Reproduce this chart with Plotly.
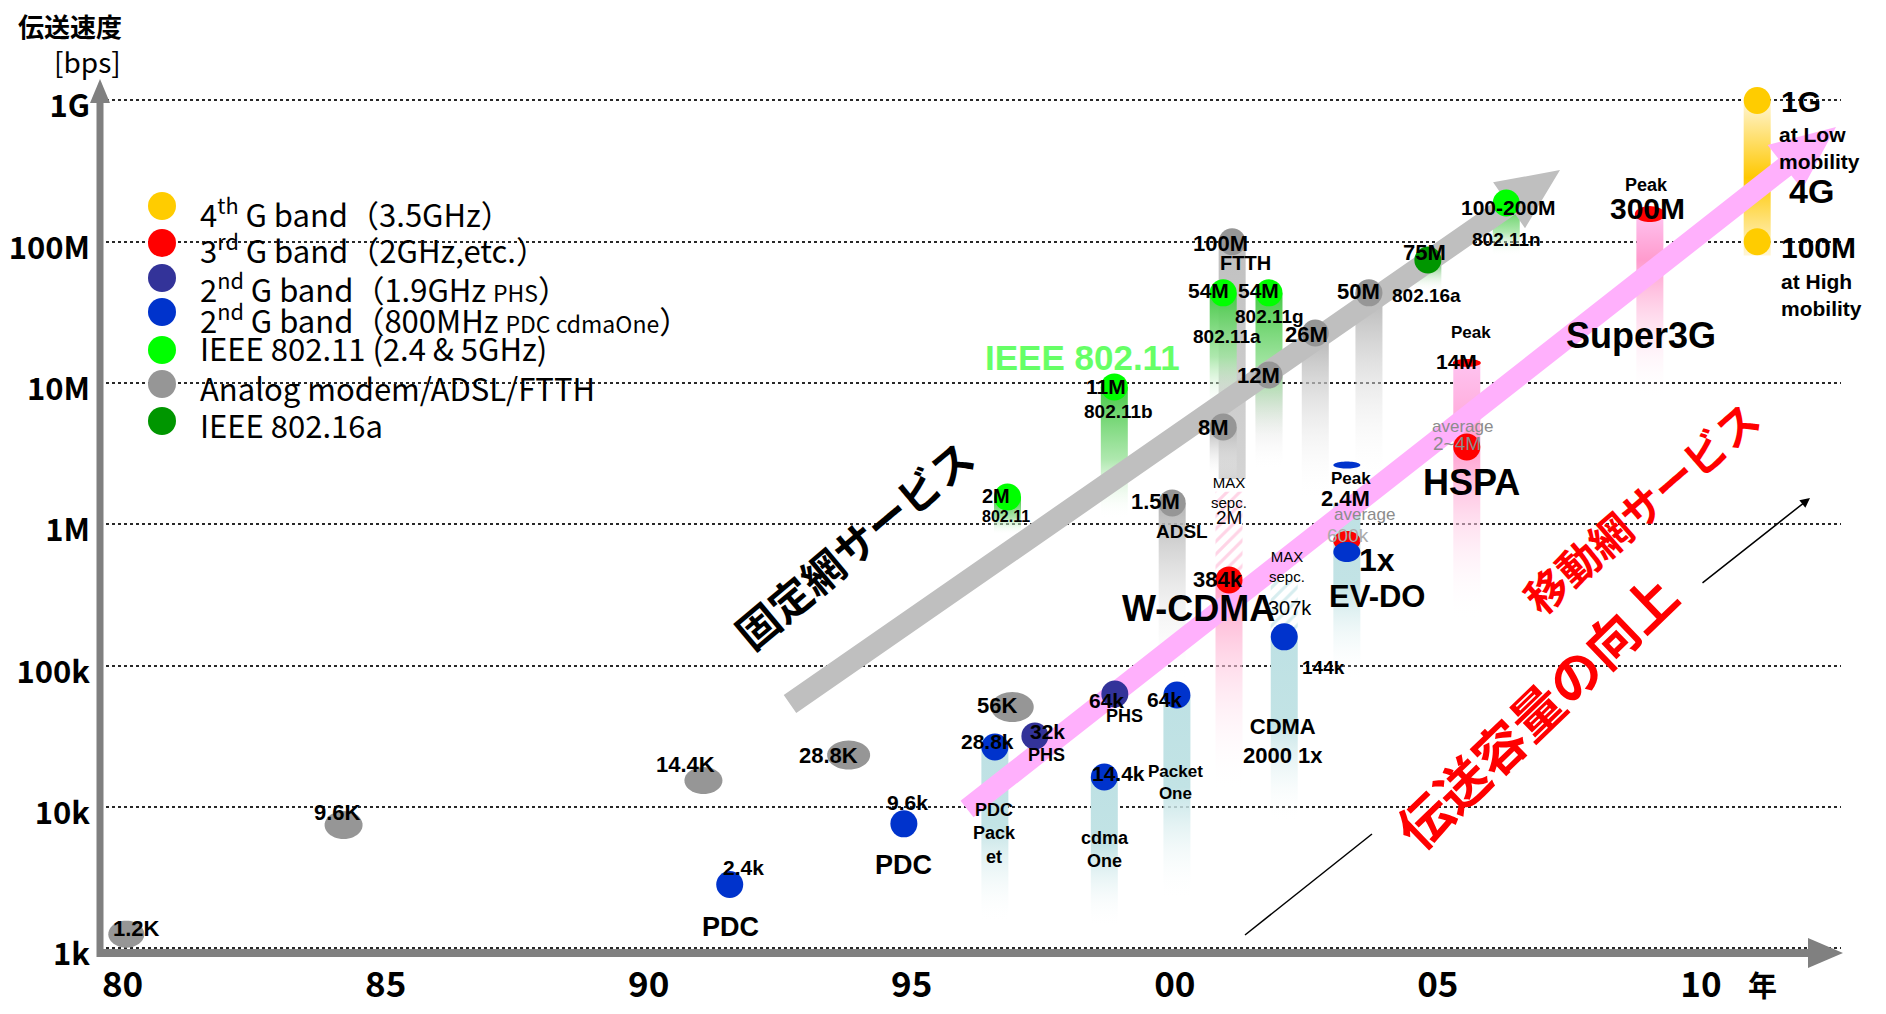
import math
import plotly.graph_objects as go

# ---------------- geometry (page pixels; the page body adds an 8 px margin) ----------------
OFF = 8
W, H = 1886 - 2 * OFF, 1014 - 2 * OFF
L, R, T, B = 100, 1841, 79, 953
X_RANGE = [1979.570, 2012.663]
Y_RANGE = [2.967, 9.152]          # log10(bps)
PX_PER_YEAR = (R - L) / (X_RANGE[1] - X_RANGE[0])
PX_PER_DEC = (B - T) / (Y_RANGE[1] - Y_RANGE[0])
BAR_PX = 27

SANS = "Liberation Sans, Arial, sans-serif"
GOTHIC = "Noto Sans CJK JP, sans-serif"
CJK = "Noto Sans CJK JP, sans-serif"

# ---------------- data ----------------
years_tick = [1980, 1985, 1990, 1995, 2000, 2005, 2010]
years_text = ["80", "85", "90", "95", "00", "05", "10"]
bps_tick = [1e3, 1e4, 1e5, 1e6, 1e7, 1e8, 1e9]
bps_text = ["1k", "10k", "100k", "1M", "10M", "100M", "1G"]

# analog modems (gray ellipses)
modem_year = [1980.07, 1984.20, 1991.04, 1993.80, 1996.91]
modem_bps = [1.26e3, 7.46e3, 15.4e3, 23.3e3, 51e3]
modem_label = ["1.2K", "9.6K", "14.4K", "28.8K", "56K"]

# ADSL / FTTH (gray)
wired_year = [1999.95, 2000.92, 2001.09, 2001.79, 2002.67, 2003.69]
wired_bps = [1.42e6, 4.89e6, 100e6, 11.4e6, 22.6e6, 43.5e6]
wired_label = ["1.5M", "8M", "100M", "12M", "26M", "50M"]
wired_bar_bottom = [80e3, 2.1e6, 2.1e6, 2.4e6, 1.5e6, 2.0e6]

# IEEE 802.11 (green)
wlan_year = [1996.82, 1998.85, 2000.92, 2001.79, 2006.30]
wlan_bps = [1.56e6, 9.4e6, 43.5e6, 43.5e6, 188e6]
wlan_label = ["2M", "11M", "54M", "54M", "100-200M"]
wlan_std = ["802.11", "802.11b", "802.11a", "802.11g", "802.11n"]
wlan_bar_bottom = [0.85e6, 1.1e6, 6.5e6, 3.8e6, 80e6]

# IEEE 802.16a (dark green)
wimax_year = [2004.81]
wimax_bps = [74.3e6]
wimax_label = ["75M"]
wimax_bar_bottom = [45e6]

# 2nd G 800MHz: PDC / cdmaOne (blue)
g2_year = [1991.54, 1994.85, 1996.58, 1998.66, 2000.04, 2002.08]
g2_bps = [2.83e3, 7.6e3, 26.6e3, 16.3e3, 62e3, 160e3]
g2_label = ["2.4k", "9.6k", "28.8k", "14.4k", "64k", "144k"]
g2_bar_bottom = [None, None, 1.5e3, 1.4e3, 2.2e3, 7.8e3]

# EV-DO (blue, 1x) with peak
evdo_year = [2003.27]
evdo_bps = [638e3]
evdo_peak_bps = [2.63e6]
evdo_bar_top = [1.4e6]
evdo_bar_bottom = [79e3]

# 2nd G 1.9GHz PHS (dark blue)
phs_year = [1997.34, 1998.86]
phs_bps = [31.8e3, 63e3]
phs_label = ["32k", "64k"]

# 3rd G (red)
wcdma_year, wcdma_bps, wcdma_max, wcdma_bar_bottom = 2001.03, 405e3, 1.7e6, 13e3
cdma_max = 400e3
evdo_avg_bps = 764e3
hspa_year, hspa_bps, hspa_peak, hspa_bar_bottom = 2005.55, 3.53e6, 13.9e6, 209e3
s3g_year, s3g_bps, s3g_bar_bottom = 2009.03, 157e6, 7.7e6

# 4th G (yellow)
g4_year = [2011.07, 2011.07]
g4_bps = [1e9, 1e8]
g4_bar_bottom = 80e6

# ---------------- helpers ----------------
def to_year(px):
    return X_RANGE[0] + (px - L) / PX_PER_YEAR


def to_bps(py):
    return 10 ** (Y_RANGE[1] - (py - T) / PX_PER_DEC)


def paper_x(px):
    return (px - L) / (R - L)


def paper_y(py):
    return (B - py) / (B - T)


traces = []
shapes = []
ann = []


def bar(year, top, bottom, scale, width_px=BAR_PX):
    half = width_px / 2 / PX_PER_YEAR
    traces.append(go.Scatter(
        x=[year - half, year + half, year + half, year - half, year - half],
        y=[top, top, bottom, bottom, top],
        mode="none", fill="toself",
        fillgradient=dict(type="vertical", colorscale=scale),
        hoverinfo="skip", showlegend=False))


def hatch(year, top, bottom, fg, width_px=BAR_PX):
    half = width_px / 2 / PX_PER_YEAR
    traces.append(go.Scatter(
        x=[year - half, year + half, year + half, year - half, year - half],
        y=[top, top, bottom, bottom, top],
        mode="none", fill="toself", fillcolor="white",
        fillpattern=dict(shape="/", fgcolor=fg, bgcolor="white", size=9, solidity=0.35),
        hoverinfo="skip", showlegend=False))


def dots(xs, ys, color, size=27):
    traces.append(go.Scatter(x=xs, y=ys, mode="markers",
                             marker=dict(size=size, color=color, line=dict(width=0)),
                             hoverinfo="skip", showlegend=False))


def ellipse(x, y, w, h, color):
    # outline of an ellipse of w x h pixels around the data point
    cx = L + (x - X_RANGE[0]) * PX_PER_YEAR
    cy = T + (Y_RANGE[1] - math.log10(y)) * PX_PER_DEC
    n = 48
    xs, ys = [], []
    for k in range(n + 1):
        a = 2 * math.pi * k / n
        xs.append(to_year(cx + w / 2 * math.cos(a)))
        ys.append(to_bps(cy + h / 2 * math.sin(a)))
    traces.append(go.Scatter(x=xs, y=ys, mode="none", fill="toself", fillcolor=color,
                             hoverinfo="skip", showlegend=False))


def label(x, y, text, dx=0, dy=0, size=21, color="black", bold=True, family=SANS, xanchor="center"):
    ann.append(dict(x=x, y=math.log10(y), xref="x", yref="y",
                    text=text, showarrow=False, xshift=dx, yshift=-dy,
                    font=dict(size=size, color=color, family=family, weight="bold" if bold else "normal"),
                    xanchor=xanchor, yanchor="middle", align="left" if xanchor == "left" else "center"))


def ptext(px, py, text, size, color="black", bold=True, family=SANS, angle=0, xanchor="center"):
    ann.append(dict(x=paper_x(px), y=paper_y(py), xref="paper", yref="paper",
                    text=text, showarrow=False, textangle=angle,
                    font=dict(size=size, color=color, family=family, weight="bold" if bold else "normal"),
                    xanchor=xanchor, yanchor="middle"))


def arrow_poly(p0, p1, hw, head_len, head_hw, color):
    (x0, y0), (x1, y1) = p0, p1
    n = math.hypot(x1 - x0, y1 - y0)
    ux, uy = (x1 - x0) / n, (y1 - y0) / n
    px_, py_ = -uy, ux
    bx, by = x1 - head_len * ux, y1 - head_len * uy
    pts = [(x0 + hw * px_, y0 + hw * py_), (bx + hw * px_, by + hw * py_),
           (bx + head_hw * px_, by + head_hw * py_), (x1, y1),
           (bx - head_hw * px_, by - head_hw * py_), (bx - hw * px_, by - hw * py_),
           (x0 - hw * px_, y0 - hw * py_), (x0 + hw * px_, y0 + hw * py_)]
    traces.append(go.Scatter(x=[to_year(p[0]) for p in pts], y=[to_bps(p[1]) for p in pts],
                             mode="none", fill="toself", fillcolor=color,
                             hoverinfo="skip", showlegend=False))


# ---------------- colour scales (0 = bottom of bar) ----------------
GRAY = [[0, "rgba(255,255,255,0)"], [1, "rgb(180,180,180)"]]
FTTH = [[0, "rgb(212,212,212)"], [1, "rgb(192,192,192)"]]
GREEN = [[0, "rgba(255,255,255,0)"], [0.45, "rgba(160,228,160,0.85)"], [1, "rgb(70,200,70)"]]
DGREEN = [[0, "rgba(255,255,255,0)"], [1, "rgb(80,180,80)"]]
TEAL = [[0, "rgba(255,255,255,0)"], [0.55, "rgb(194,227,229)"], [1, "rgb(190,225,228)"]]
PINK_W = [[0, "rgba(255,255,255,0)"], [1, "rgb(255,160,200)"]]
PINK_H = [[0, "rgba(255,255,255,0)"], [0.67, "rgb(255,160,208)"], [1, "rgb(255,195,240)"]]
PINK_S = [[0, "rgba(255,255,255,0)"], [0.75, "rgb(255,155,205)"], [1, "rgb(255,195,240)"]]
YELLOW = [[0, "rgb(255,246,215)"], [0.5, "rgb(255,200,0)"], [1, "rgb(255,246,215)"]]

# ---------------- bars ----------------
for i in [2, 0, 1, 3, 4, 5]:
    bar(wired_year[i], wired_bps[i], wired_bar_bottom[i], FTTH if i == 2 else GRAY)
for i in range(len(wlan_year)):
    bar(wlan_year[i], wlan_bps[i], wlan_bar_bottom[i], GREEN)
bar(wimax_year[0], wimax_bps[0], wimax_bar_bottom[0], DGREEN)
for i in range(len(g2_year)):
    if g2_bar_bottom[i] is not None:
        bar(g2_year[i], g2_bps[i], g2_bar_bottom[i], TEAL)
bar(evdo_year[0], evdo_bar_top[0], evdo_bar_bottom[0], TEAL)
bar(wcdma_year, wcdma_bps, wcdma_bar_bottom, PINK_W)
bar(hspa_year, hspa_peak, hspa_bar_bottom, PINK_H)
bar(s3g_year, s3g_bps, s3g_bar_bottom, PINK_S)
bar(g4_year[0], g4_bps[0], g4_bar_bottom, YELLOW)
hatch(wcdma_year, wcdma_max, wcdma_bps, "rgb(255,170,205)")
hatch(g2_year[5], cdma_max, g2_bps[5], "rgb(175,220,224)")

# ---------------- trend arrows ----------------
arrow_poly((790, 704), (1560, 170), 11, 62, 28, "rgb(191,191,191)")
arrow_poly((967, 809), (1836, 127), 10.5, 65, 28, "rgb(255,176,252)")

# ---------------- dots ----------------
dots(wired_year, wired_bps, "rgb(150,150,150)")
dots(wlan_year, wlan_bps, "rgb(0,255,0)")
dots(wimax_year, wimax_bps, "rgb(0,150,0)")
dots(g2_year, g2_bps, "rgb(0,51,204)")
dots(phs_year, phs_bps, "rgb(51,51,153)")
dots([wcdma_year, hspa_year], [wcdma_bps, hspa_bps], "rgb(255,0,0)")
dots(g4_year, g4_bps, "rgb(255,204,0)")

modem_size = [(36, 27), (38, 28), (38, 27), (43, 29), (43, 30)]
for i in range(len(modem_year)):
    ellipse(modem_year[i], modem_bps[i], *modem_size[i], "rgb(150,150,150)")
ellipse(evdo_year[0], evdo_avg_bps, 27, 20, "rgb(255,0,0)")
ellipse(evdo_year[0], evdo_bps[0], 27, 20, "rgb(0,51,204)")
ellipse(evdo_year[0], evdo_peak_bps[0], 27, 7, "rgb(0,51,204)")
ellipse(hspa_year, hspa_peak, 28, 8, "rgb(255,0,0)")
ellipse(s3g_year, s3g_bps, 30, 16, "rgb(255,0,0)")

# ---------------- labels ----------------
modem_off = [(10, -6), (-6, -13), (-18, -16), (-20, 0), (-15, -2)]
for i in range(len(modem_year)):
    label(modem_year[i], modem_bps[i], modem_label[i], *modem_off[i], size=22)
wired_off = [(-17, -1), (-10, 0), (-12, 2), (-10, 0), (-9, 1), (-10, -1)]
for i in range(len(wired_year)):
    label(wired_year[i], wired_bps[i], wired_label[i], *wired_off[i], size=22)
label(wired_year[0], wired_bps[0], "ADSL", 10, 29, size=19)
label(wired_year[2], wired_bps[2], "FTTH", 13, 21, size=20)

wlan_off = [(-12, -1), (-8, 0), (-15, -2), (-10, -2), (2, 4)]
wlan_std_off = [(-2, 19), (4, 25), (4, 44), (1, 24), (0, 36)]
for i in range(len(wlan_year)):
    label(wlan_year[i], wlan_bps[i], wlan_label[i], *wlan_off[i], size=20 if i == 0 else 21)
    label(wlan_year[i], wlan_bps[i], wlan_std[i], *wlan_std_off[i], size=16 if i == 0 else 19)
label(wimax_year[0], wimax_bps[0], wimax_label[0], -3, -8, size=22)
label(wimax_year[0], wimax_bps[0], "802.16a", -1, 35, size=19)

g2_off = [(14, -17), (4, -21), (-7, -5), (14, -4), (-12, 4), (39, 31)]
for i in range(len(g2_year)):
    label(g2_year[i], g2_bps[i], g2_label[i], *g2_off[i], size=21 if i < 5 else 19)
label(g2_year[0], g2_bps[0], "PDC", 1, 42, size=27)
label(g2_year[1], g2_bps[1], "PDC", 0, 41, size=27)
label(g2_year[2], g2_bps[2], "PDC<br>Pack<br>et", 0, 87, size=18)
label(g2_year[3], g2_bps[3], "cdma<br>One", 1, 72, size=18)
label(g2_year[4], g2_bps[4], "Packet<br>One", -1, 87, size=17)
label(g2_year[5], g2_bps[5], "CDMA<br>2000 1x", -1, 104, size=22)
label(g2_year[5], g2_bps[5], "MAX<br>sepc.", 3, -70, size=15, bold=False)
label(g2_year[5], g2_bps[5], "307k", 6, -29, size=20, bold=False)
label(evdo_year[0], evdo_bps[0], "1x", 30, 8, size=32)
label(evdo_year[0], evdo_bps[0], "EV-DO", 30, 45, size=31)
label(evdo_year[0], evdo_avg_bps, "average", 18, -26, size=17, color="rgb(140,140,140)", bold=False)
label(evdo_year[0], evdo_avg_bps, "600k", 1, -5, size=19, color="rgb(170,170,170)", bold=False)
label(evdo_year[0], evdo_peak_bps[0], "Peak", 4, 13, size=17)
label(evdo_year[0], evdo_peak_bps[0], "2.4M", -1, 33, size=22)

phs_off = [(13, -5), (-8, 6)]
phs_sub = [(12, 19), (10, 22)]
for i in range(len(phs_year)):
    label(phs_year[i], phs_bps[i], phs_label[i], *phs_off[i], size=21)
    label(phs_year[i], phs_bps[i], "PHS", *phs_sub[i], size=18)

label(wcdma_year, wcdma_bps, "384k", -11, 0, size=22)
label(wcdma_year, wcdma_bps, "MAX<br>sepc.", 0, -87, size=15, bold=False)
label(wcdma_year, wcdma_bps, "2M", 0, -62, size=19, bold=False)
label(hspa_year, hspa_bps, "average", -4, -21, size=17, color="rgb(140,140,140)", bold=False)
label(hspa_year, hspa_bps, "2~4M", -10, -4, size=19, color="rgb(140,140,140)", bold=False)
label(hspa_year, hspa_bps, "HSPA", 5, 35, size=36)
label(hspa_year, hspa_peak, "Peak", 4, -30, size=17)
label(hspa_year, hspa_peak, "14M", -10, -1, size=21)
label(s3g_year, s3g_bps, "Peak", -3, -29, size=18)
label(s3g_year, s3g_bps, "300M", -2, -6, size=30)
label(s3g_year, s3g_bps, "Super3G", -9, 121, size=36)

label(g4_year[0], g4_bps[0], "1G", 22, 1, size=30, xanchor="left")
label(g4_year[0], g4_bps[0], "at Low<br>mobility", 20, 48, size=21, xanchor="left")
label(g4_year[0], g4_bps[0], "4G", 30, 91, size=34, xanchor="left")
label(g4_year[1], g4_bps[1], "100M", 22, 6, size=30, xanchor="left")
label(g4_year[1], g4_bps[1], "at High<br>mobility", 22, 53, size=21, xanchor="left")

ptext(1082, 357, "IEEE 802.11", 35, color="rgb(102,255,102)")
ptext(1198, 608, "W-CDMA", 36)
ptext(853, 543, "固定網サービス", 42, family=CJK, angle=-40)
ptext(1640, 506, "移動網サービス", 42, color="rgb(255,0,0)", family=CJK, angle=-41)
ptext(1535, 710, "伝送容量の向上", 52, color="rgb(255,0,0)", family=CJK, angle=-44)
ptext(70, 25, "伝送速度", 26, family=CJK)
ptext(87, 61, "[bps]", 28, family=GOTHIC, bold=False)
ptext(1762, 984, "年", 29, family=CJK)

# ---------------- legend ----------------
legend_color = ["rgb(255,204,0)", "rgb(255,0,0)", "rgb(51,51,153)", "rgb(0,51,204)",
                "rgb(0,255,0)", "rgb(150,150,150)", "rgb(0,150,0)"]
legend_text = ["4<sup>th</sup> G band（3.5GHz）",
               "3<sup>rd</sup> G band（2GHz,etc.）",
               "2<sup>nd</sup> G band（1.9GHz <span style='font-size:23px'>PHS</span>）",
               "2<sup>nd</sup> G band（800MHz <span style='font-size:23px'>PDC cdmaOne</span>）",
               "IEEE 802.11 (2.4 & 5GHz)",
               "Analog modem/ADSL/FTTH",
               "IEEE 802.16a"]
legend_dot_y = [206, 243, 278, 312, 350, 384, 421]
legend_txt_y = [212, 248, 287, 318, 348, 387, 424]
for c, t, dy, ty in zip(legend_color, legend_text, legend_dot_y, legend_txt_y):
    shapes.append(dict(type="circle", xref="paper", yref="paper", xsizemode="pixel", ysizemode="pixel",
                       xanchor=paper_x(162), yanchor=paper_y(dy), x0=-14, x1=14, y0=-14, y1=14,
                       fillcolor=c, line=dict(width=0), layer="above"))
    ptext(198, ty, t, 31, family=GOTHIC, bold=False, xanchor="left")

# ---------------- axes lines with arrowheads, thin trend arrow ----------------
AX = "rgb(128,128,128)"
shapes.append(dict(type="line", xref="paper", yref="paper", x0=paper_x(100), x1=paper_x(100),
                   y0=paper_y(957), y1=paper_y(98), line=dict(color=AX, width=7), layer="above"))
shapes.append(dict(type="path", xref="paper", yref="paper", fillcolor=AX, line=dict(width=0), layer="above",
                   path=f"M {paper_x(90)} {paper_y(103)} L {paper_x(100)} {paper_y(79)} L {paper_x(110)} {paper_y(103)} Z"))
shapes.append(dict(type="line", xref="paper", yref="paper", x0=paper_x(97), x1=paper_x(1812),
                   y0=paper_y(953), y1=paper_y(953), line=dict(color=AX, width=8), layer="above"))
shapes.append(dict(type="path", xref="paper", yref="paper", fillcolor=AX, line=dict(width=0), layer="above",
                   path=f"M {paper_x(1808)} {paper_y(938)} L {paper_x(1843)} {paper_y(953)} L {paper_x(1808)} {paper_y(968)} Z"))
shapes.append(dict(type="line", xref="paper", yref="paper", x0=paper_x(1245), x1=paper_x(1372),
                   y0=paper_y(935), y1=paper_y(834), line=dict(color="black", width=1.5), layer="above"))
ann.append(dict(x=paper_x(1810), y=paper_y(498), xref="paper", yref="paper", ax=-109, ay=86,
                text="", showarrow=True, arrowhead=2, arrowsize=1.3, arrowwidth=1.5, arrowcolor="black"))

# ---------------- figure ----------------
fig = go.Figure(traces)
fig.update_layout(
    width=W, height=H,
    margin=dict(l=L - OFF, r=(OFF + W) - R, t=T - OFF, b=(OFF + H) - B, pad=0, autoexpand=False),
    plot_bgcolor="white", paper_bgcolor="white",
    showlegend=False,
    shapes=shapes, annotations=ann,
    xaxis=dict(range=X_RANGE, tickvals=years_tick, ticktext=years_text, showgrid=False,
               zeroline=False, showline=False, ticks="", ticklabelstandoff=8,
               tickfont=dict(family=GOTHIC, size=35, color="black", weight="bold")),
    yaxis=dict(type="log", range=Y_RANGE, tickvals=bps_tick, ticktext=bps_text,
               showgrid=True, gridcolor="rgb(40,40,40)", griddash="dot", gridwidth=1.5,
               zeroline=False, showline=False, ticks="", ticklabelstandoff=9, ticklabelshift=6,
               tickfont=dict(family=GOTHIC, size=31, color="black", weight="bold")),
)
fig.write_html("out.html")
